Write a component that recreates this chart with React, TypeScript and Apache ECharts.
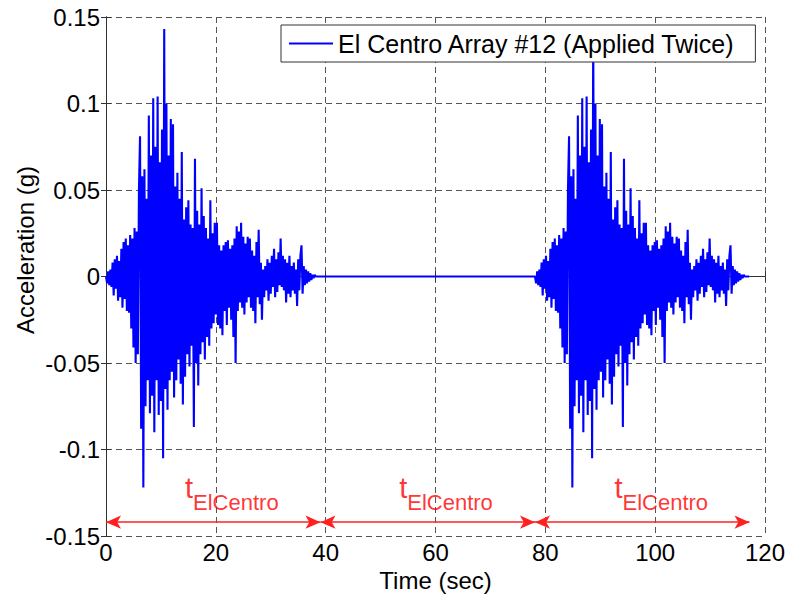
import React, { useEffect, useRef } from "react";
import * as echarts from "echarts";

// El Centro Array #12 record at 0.2 s steps (g)
const dt = 0.2;
const accel: number[] = [
  0, -0.004, 0.003, -0.005, 0.004,
  -0.006, 0.008, -0.011, 0.010, -0.007,
  0.012, -0.014, 0.009, -0.012, 0.016,
  -0.018, 0.020, -0.013, 0.022, -0.020,
  0.018, -0.021, 0.024, -0.030, 0.022,
  -0.041, 0.028, -0.050, 0.026, -0.045,
  0.050, 0.081, -0.088, 0.058, -0.122,
  0.062, -0.075, 0.045, -0.060, 0.093,
  -0.079, 0.070, -0.069, 0.103, -0.090,
  0.075, -0.060, 0.104, -0.080, 0.066,
  -0.072, 0.085, -0.105, 0.143, -0.065,
  0.100, -0.077, 0.070, -0.060, 0.091,
  -0.055, 0.088, -0.070, 0.052, -0.060,
  0.060, -0.048, 0.045, -0.062, 0.072,
  -0.074, 0.033, -0.058, 0.040, -0.045,
  0.044, -0.052, 0.030, -0.040, 0.028,
  -0.087, 0.068, -0.050, 0.038, -0.063,
  0.030, -0.045, 0.051, -0.038, 0.035,
  -0.048, 0.028, -0.035, 0.022, -0.040,
  0.044, -0.030, 0.025, -0.027, 0.031,
  -0.022, 0.031, -0.028, 0.018, -0.030,
  0.015, -0.034, 0.018, -0.020, 0.020,
  -0.028, 0.021, -0.018, 0.016, -0.025,
  0.018, -0.035, 0.022, -0.050, 0.029,
  -0.020, 0.026, -0.015, 0.031, -0.018,
  0.023, -0.022, 0.019, -0.015, 0.023,
  -0.012, 0.022, -0.018, 0.015, -0.020,
  0.012, -0.027, 0.020, -0.012, 0.027,
  -0.016, 0.008, -0.025, 0.004, -0.012,
  0.006, -0.008, 0.010, -0.014, 0.008,
  -0.010, 0.012, -0.006, 0.016, -0.012,
  0.010, -0.009, 0.014, -0.005, 0.022,
  -0.006, 0.012, -0.008, 0.010, -0.015,
  0.008, -0.010, 0.012, -0.012, 0.006,
  -0.008, 0.008, -0.010, 0.004, -0.017,
  0.010, -0.008, 0.012, 0.018, -0.010,
  0.006, -0.005, 0.004, -0.004, 0.003,
  -0.003, 0.002, -0.002, 0.001, -0.001,
  0.001, 0, 0, 0, 0,
  0,
];

// record applied twice, separated by a quiet interval of one record length
const segmentStarts = [0, 39.06, 78.12];
const segmentEnds = [39.06, 78.12, 117.18];
const applications = [0, 78.12];
const arrowLevel = -0.142;
const labelX = [14.3, 53.3, 92.5];
const labelLevel = -0.1249;

const xTicks = { min: 0, max: 120, interval: 20 };
const yTicks = { min: -0.15, max: 0.15, interval: 0.05 };

const seriesName = "El Centro Array #12 (Applied Twice)";
const yName = "Acceleration (g)";
const xName = "Time (sec)";

const FONT = "'Liberation Sans', Arial, Helvetica, sans-serif";

export default function App() {
  const ref = useRef<HTMLDivElement>(null);
  useEffect(() => {
    if (!ref.current) return;
    const chart = echarts.init(ref.current, undefined, { renderer: "svg" });

    const data: [number, number][] = [];
    applications.forEach((start) => {
      accel.forEach((v, i) => data.push([+(start + i * dt).toFixed(3), v]));
    });

    const fmt = (v: number) => String(Number(v.toFixed(4)));
    const axisColor = "#333";
    const gridLine = { show: true, lineStyle: { color: "#555", type: [6, 4] as any, width: 1 } };

    chart.setOption({
      animation: false,
      backgroundColor: "#fff",
      grid: { left: 106, right: 24, top: 17, bottom: 62 },
      legend: {
        data: [seriesName],
        left: 281,
        top: 25,
        padding: [6, 20, 6, 8],
        backgroundColor: "#fff",
        borderColor: "#333",
        borderWidth: 1,
        borderRadius: 0,
        itemWidth: 44,
        itemHeight: 2,
        icon: "rect",
        textStyle: { fontFamily: FONT, fontSize: 25, color: "#000" },
        z: 20,
      },
      xAxis: [
        {
          type: "value",
          min: xTicks.min,
          max: xTicks.max,
          interval: xTicks.interval,
          name: xName,
          nameLocation: "middle",
          nameGap: 30,
          nameTextStyle: { fontFamily: FONT, fontSize: 24, color: "#000" },
          axisLine: { show: true, lineStyle: { color: axisColor } },
          axisTick: { show: true, inside: true, length: 5, lineStyle: { color: axisColor } },
          axisLabel: { fontFamily: FONT, fontSize: 24, color: "#000", margin: 4, formatter: fmt },
          splitLine: gridLine,
        },
        {
          type: "value",
          position: "top",
          min: xTicks.min,
          max: xTicks.max,
          interval: xTicks.interval,
          axisLine: { show: true, lineStyle: { color: axisColor } },
          axisTick: { show: true, inside: true, length: 5, lineStyle: { color: axisColor } },
          axisLabel: { show: false },
          splitLine: { show: false },
        },
      ],
      yAxis: [
        {
          type: "value",
          min: yTicks.min,
          max: yTicks.max,
          interval: yTicks.interval,
          axisLine: { show: true, lineStyle: { color: axisColor } },
          axisTick: { show: true, inside: true, length: 5, lineStyle: { color: axisColor } },
          axisLabel: { fontFamily: FONT, fontSize: 24, color: "#000", margin: 6, formatter: fmt },
          splitLine: gridLine,
        },
        {
          type: "value",
          position: "right",
          min: yTicks.min,
          max: yTicks.max,
          interval: yTicks.interval,
          axisLine: { show: true, lineStyle: { color: axisColor } },
          axisTick: { show: true, inside: true, length: 5, lineStyle: { color: axisColor } },
          axisLabel: { show: false },
          splitLine: { show: false },
        },
      ],
      graphic: [
        {
          type: "text",
          x: 25,
          y: 250,
          rotation: Math.PI / 2,
          style: {
            text: yName,
            font: `24px ${FONT}`,
            fill: "#000",
            textAlign: "center",
            textVerticalAlign: "middle",
          },
        },
      ],
      series: [
        {
          name: seriesName,
          type: "line",
          data,
          symbol: "none",
          showSymbol: false,
          lineStyle: { color: "#0000ff", width: 2.1 },
          itemStyle: { color: "#0000ff" },
          z: 2,
        },
        {
          name: "annotations",
          type: "scatter",
          data: labelX.map((x) => [x, labelLevel]),
          symbolSize: 1,
          itemStyle: { color: "transparent" },
          silent: true,
          label: {
            show: true,
            position: "right",
            distance: 0,
            align: "left",
            formatter: () => "{t|t}\n{s|ElCentro}",
            rich: {
              t: { fontFamily: FONT, fontSize: 29, lineHeight: 20, color: "#ff0000" },
              s: {
                fontFamily: FONT,
                fontSize: 22,
                lineHeight: 10,
                color: "#ff0000",
                padding: [0, 0, 0, 8],
              },
            },
          },
          markLine: {
            silent: true,
            symbol: ["arrow", "arrow"],
            symbolSize: [10, 15],
            label: { show: false },
            lineStyle: { color: "#ff2020", width: 1.5, type: "solid" },
            itemStyle: { color: "#ff0000" },
            data: segmentStarts.map((s, i) => [
              { coord: [s, arrowLevel] },
              { coord: [segmentEnds[i], arrowLevel] },
            ]),
          },
          z: 3,
        },
      ],
    });
    return () => chart.dispose();
  }, []);
  return (
    <div
      ref={ref}
      style={{ position: "absolute", left: 0, top: 0, width: 789, height: 598, background: "#fff" }}
    />
  );
}
